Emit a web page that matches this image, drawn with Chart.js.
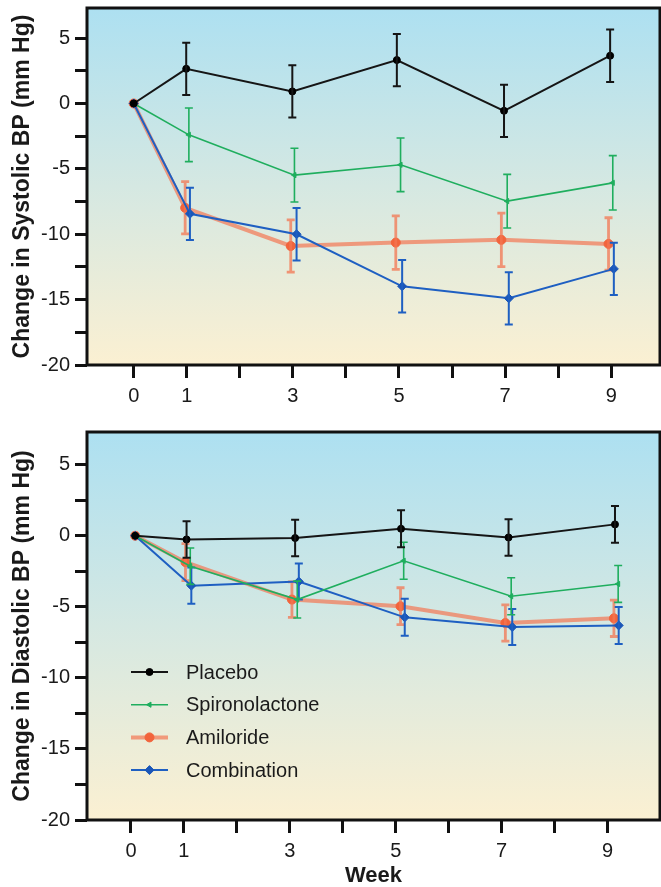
<!DOCTYPE html>
<html>
<head>
<meta charset="utf-8">
<script src="https://cdn.jsdelivr.net/npm/chart.js@4.4.1/dist/chart.umd.min.js"></script>
<style>
  body { margin: 0; background: #fff; }
  canvas { display: block; }
</style>
</head>
<body>
<canvas id="sysChart" width="661" height="420"></canvas>
<canvas id="diaChart" width="661" height="467"></canvas>
<script>
// data (change from baseline, mm Hg), x = week with the small plotting offsets
const seriesNames = ['Placebo', 'Spironolactone', 'Amiloride', 'Combination'];
const xTickLabels = [0, 1, 3, 5, 7, 9];
const yTickLabels = [5, 0, -5, -10, -15, -20];

// systolic
const sysPlaceboX = [0, 0.99, 2.99, 4.96, 6.98, 8.98];
const sysPlaceboY = [0, 2.65, 0.92, 3.32, -0.56, 3.65];
const sysPlaceboErr = [0, 2.0, 2.0, 2.0, 2.0, 2.0];
const sysSpiroX = [0, 1.04, 3.03, 5.03, 7.04, 9.03];
const sysSpiroY = [0, -2.4, -5.48, -4.69, -7.47, -6.07];
const sysSpiroErr = [0, 2.05, 2.05, 2.05, 2.05, 2.08];
const sysAmilX = [0, 0.97, 2.96, 4.94, 6.93, 8.95];
const sysAmilY = [0, -7.98, -10.9, -10.64, -10.43, -10.74];
const sysAmilErr = [0, 2.0, 2.0, 2.05, 2.05, 2.0];
const sysComboX = [0, 1.06, 3.07, 5.06, 7.07, 9.05];
const sysComboY = [0, -8.44, -10.0, -13.98, -14.9, -12.65];
const sysComboErr = [0, 2.0, 2.0, 2.0, 2.0, 2.0];

// diastolic
const diaPlaceboX = [0.08, 1.05, 3.1, 5.1, 7.13, 9.14];
const diaPlaceboY = [0, -0.26, -0.16, 0.49, -0.12, 0.8];
const diaPlaceboErr = [0, 1.28, 1.28, 1.3, 1.28, 1.29];
const diaSpiroX = [0.08, 1.12, 3.14, 5.15, 7.18, 9.2];
const diaSpiroY = [0, -2.14, -4.49, -1.76, -4.26, -3.39];
const diaSpiroErr = [0, 1.28, 1.3, 1.3, 1.3, 1.3];
const diaAmilX = [0.08, 1.03, 3.04, 5.09, 7.07, 9.12];
const diaAmilY = [0, -1.86, -4.49, -4.96, -6.14, -5.81];
const diaAmilErr = [0, 1.3, 1.25, 1.3, 1.28, 1.28];
const diaComboX = [0.08, 1.14, 3.17, 5.17, 7.2, 9.21];
const diaComboY = [0, -3.51, -3.22, -5.74, -6.42, -6.31];
const diaComboErr = [0, 1.27, 1.27, 1.3, 1.27, 1.3];

const FONT = "'Liberation Sans', Arial, Helvetica, sans-serif";
const TEXT = '#1a1a1a';

// line look per series, same order as seriesNames
const looks = [
  { line: '#151515', point: '#000000', width: 2, style: 'circle', radius: 3.5, rotation: 0, err: '#151515', errWidth: 2, order: 0 },
  { line: '#1fae5e', point: '#1fae5e', width: 1.6, style: 'triangle', radius: 3, rotation: -90, err: '#1fae5e', errWidth: 1.6, order: 1 },
  { line: 'rgba(243,118,82,0.7)', point: '#f2643c', width: 4, style: 'circle', radius: 4.5, rotation: 0, err: 'rgba(243,118,82,0.75)', errWidth: 2.8, order: 3 },
  { line: '#1e5fc2', point: '#1a56b8', width: 2, style: 'rectRot', radius: 4.5, rotation: 0, err: '#1e5fc2', errWidth: 2, order: 2 }
];

const toPoints = (xs, ys) => xs.map((x, i) => ({ x: x, y: ys[i] }));

function makeDatasets(xsList, ysList, errList) {
  return seriesNames.map((name, i) => ({
    label: name,
    data: toPoints(xsList[i], ysList[i]),
    errors: errList[i],
    borderColor: looks[i].line,
    borderWidth: looks[i].width,
    backgroundColor: looks[i].point,
    pointBackgroundColor: looks[i].point,
    pointBorderColor: looks[i].point,
    pointBorderWidth: 1,
    pointStyle: looks[i].style,
    pointRadius: looks[i].radius,
    pointRotation: looks[i].rotation,
    errColor: looks[i].err,
    errWidth: looks[i].errWidth,
    order: looks[i].order,
    tension: 0,
    clip: false
  }));
}

// gradient behind the plot
const plotBackground = {
  id: 'plotBackground',
  beforeDraw(chart) {
    const { ctx, chartArea: a } = chart;
    const g = ctx.createLinearGradient(0, a.top, 0, a.bottom);
    g.addColorStop(0, '#ade0f1');
    g.addColorStop(0.5, '#d5e8e2');
    g.addColorStop(1, '#fbf0d2');
    ctx.save();
    ctx.fillStyle = g;
    ctx.fillRect(a.left, a.top, a.right - a.left, a.bottom - a.top);
    ctx.restore();
  }
};

// black frame round the plot
const plotFrame = {
  id: 'plotFrame',
  afterDraw(chart) {
    const { ctx, chartArea: a } = chart;
    ctx.save();
    ctx.strokeStyle = '#111';
    ctx.lineWidth = 3;
    ctx.strokeRect(a.left, a.top, a.right - a.left, a.bottom - a.top);
    ctx.restore();
  }
};

// vertical error bars with caps
const errorBars = {
  id: 'errorBars',
  afterDatasetDraw(chart, args) {
    const ds = chart.data.datasets[args.index];
    if (!ds.errors) return;
    const ctx = chart.ctx;
    const xs = chart.scales.x, ys = chart.scales.y;
    ctx.save();
    ctx.strokeStyle = ds.errColor;
    ctx.lineWidth = ds.errWidth;
    ds.data.forEach((p, i) => {
      const e = ds.errors[i];
      if (!e) return;
      const px = xs.getPixelForValue(p.x);
      const top = ys.getPixelForValue(p.y + e);
      const bot = ys.getPixelForValue(p.y - e);
      ctx.beginPath();
      ctx.moveTo(px, top); ctx.lineTo(px, bot);
      ctx.moveTo(px - 4, top); ctx.lineTo(px + 4, top);
      ctx.moveTo(px - 4, bot); ctx.lineTo(px + 4, bot);
      ctx.stroke();
    });
    ctx.restore();
  }
};

// legend drawn inside the lower plot
const innerLegend = {
  id: 'innerLegend',
  afterDraw(chart) {
    const ctx = chart.ctx;
    const a = chart.chartArea;
    const x0 = a.left + 44, x1 = a.left + 81, tx = a.left + 99;
    let y = a.top + 240;
    ctx.save();
    chart.data.datasets.forEach(ds => {
      ctx.strokeStyle = ds.borderColor;
      ctx.lineWidth = ds.borderWidth;
      ctx.beginPath();
      ctx.moveTo(x0, y); ctx.lineTo(x1, y);
      ctx.stroke();
      ctx.fillStyle = ds.pointBackgroundColor;
      ctx.strokeStyle = ds.pointBorderColor;
      ctx.lineWidth = 1;
      Chart.helpers.drawPoint(ctx, {
        pointStyle: ds.pointStyle, radius: ds.pointRadius, rotation: ds.pointRotation, borderWidth: 1
      }, (x0 + x1) / 2, y);
      ctx.fillStyle = TEXT;
      ctx.font = '20px ' + FONT;
      ctx.textBaseline = 'middle';
      ctx.textAlign = 'left';
      ctx.fillText(ds.label, tx, y + 1);
      y += 32.7;
    });
    ctx.restore();
  }
};

// no automatic label padding, the plot box is fixed
const noPad = s => { s.paddingTop = 0; s.paddingBottom = 0; s.paddingLeft = 0; s.paddingRight = 0; };

function makeOptions(cfg) {
  return {
    responsive: false,
    animation: false,
    devicePixelRatio: 1,
    layout: { autoPadding: false, padding: { top: cfg.top, right: 1, left: 0, bottom: 0 } },
    plugins: { legend: { display: false }, tooltip: { enabled: false } },
    scales: {
      x: {
        type: 'linear',
        min: cfg.xMin,
        max: cfg.xMax,
        afterFit(s) { s.height = cfg.xHeight; noPad(s); },
        border: { display: false },
        grid: { drawOnChartArea: false, drawTicks: true, tickLength: 13, tickWidth: 3, tickColor: '#111' },
        ticks: {
          stepSize: 1, includeBounds: false, autoSkip: false, maxRotation: 0,
          padding: 6, color: TEXT, font: { family: FONT, size: 20 },
          callback: v => xTickLabels.includes(v) ? String(v) : ''
        },
        title: {
          display: !!cfg.xTitle, text: cfg.xTitle || '', color: TEXT,
          font: { family: FONT, size: 22, weight: 'bold', lineHeight: 1 },
          padding: { top: 0, bottom: 0 }
        }
      },
      y: {
        min: -20,
        max: 7.3,
        afterFit(s) { s.width = 87; noPad(s); },
        border: { display: false },
        grid: { drawOnChartArea: false, drawTicks: true, tickLength: 12, tickWidth: 3, tickColor: '#111' },
        ticks: {
          stepSize: 2.5, includeBounds: false, autoSkip: false,
          padding: 5, color: TEXT, font: { family: FONT, size: 20 },
          callback: v => yTickLabels.includes(v) ? String(v) : ''
        },
        title: {
          display: true, text: cfg.yTitle, color: TEXT,
          font: { family: FONT, size: 23, weight: 'bold', lineHeight: 1 },
          padding: { top: 11, bottom: 0 }
        }
      }
    }
  };
}

new Chart(document.getElementById('sysChart'), {
  type: 'line',
  data: {
    datasets: makeDatasets(
      [sysPlaceboX, sysSpiroX, sysAmilX, sysComboX],
      [sysPlaceboY, sysSpiroY, sysAmilY, sysComboY],
      [sysPlaceboErr, sysSpiroErr, sysAmilErr, sysComboErr]
    )
  },
  options: makeOptions({
    top: 8, xHeight: 55, xMin: -0.88, xMax: 9.92,
    yTitle: 'Change in Systolic BP (mm Hg)'
  }),
  plugins: [plotBackground, errorBars, plotFrame]
});

new Chart(document.getElementById('diaChart'), {
  type: 'line',
  data: {
    datasets: makeDatasets(
      [diaPlaceboX, diaSpiroX, diaAmilX, diaComboX],
      [diaPlaceboY, diaSpiroY, diaAmilY, diaComboY],
      [diaPlaceboErr, diaSpiroErr, diaAmilErr, diaComboErr]
    )
  },
  options: makeOptions({
    top: 12, xHeight: 67, xMin: -0.83, xMax: 9.99,
    yTitle: 'Change in Diastolic BP (mm Hg)', xTitle: 'Week'
  }),
  plugins: [plotBackground, errorBars, plotFrame, innerLegend]
});
</script>
</body>
</html>
